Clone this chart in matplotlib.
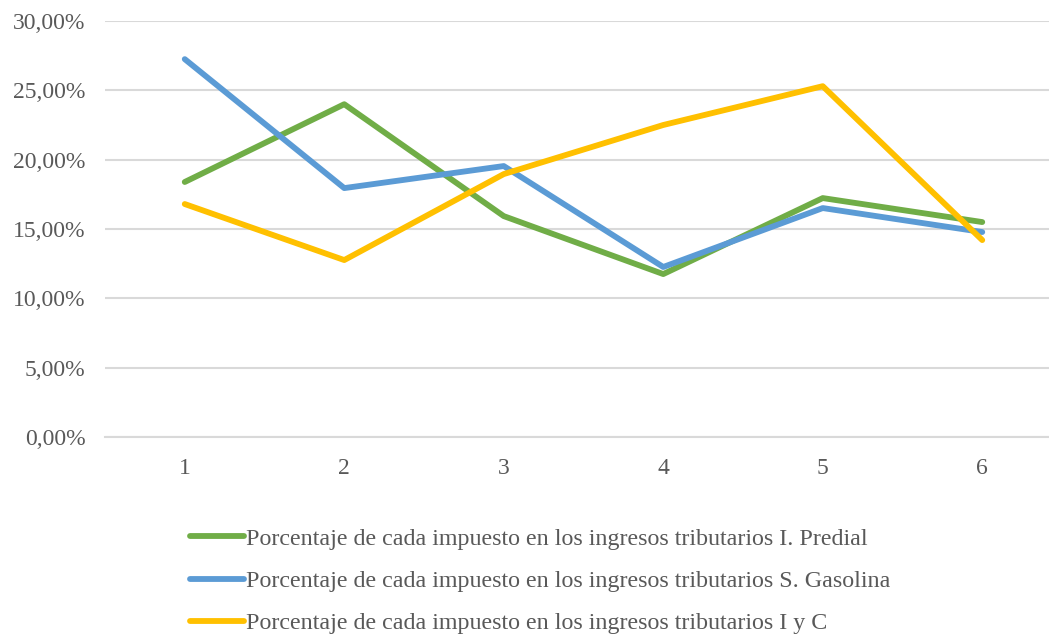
import numpy as np
from matplotlib import pyplot as plt
from matplotlib.ticker import FuncFormatter

# Datos
periodos = [1, 2, 3, 4, 5, 6]
predial = [0.1839, 0.2400, 0.1593, 0.1175, 0.1723, 0.1550]
gasolina = [0.2725, 0.1795, 0.1954, 0.1226, 0.1651, 0.1478]
iyc = [0.1680, 0.1276, 0.1896, 0.2250, 0.2530, 0.1420]
etiquetas = ["Porcentaje de cada impuesto en los ingresos tributarios I. Predial",
             "Porcentaje de cada impuesto en los ingresos tributarios S. Gasolina",
             "Porcentaje de cada impuesto en los ingresos tributarios I y C"]
colores = ["#70AD47", "#5B9BD5", "#FFC000"]

plt.rcParams['font.family'] = ['Liberation Serif', 'DejaVu Serif']

W, H = 1049, 635
fig = plt.figure(figsize=(W / 100, H / 100), dpi=100)
ax = fig.add_axes([105 / W, 1 - 437 / H, (1062 - 105) / W, (437 - 21) / H])

for serie, col, lab in zip([predial, gasolina, iyc], colores, etiquetas):
    ax.plot(periodos, serie, color=col, lw=4.2, label=lab, solid_capstyle='round', solid_joinstyle='round')

ax.set_xlim(0.5, 6.5)
ax.set_ylim(0, 0.30)
ax.set_yticks(np.arange(0, 0.301, 0.05))
ax.yaxis.set_major_formatter(FuncFormatter(lambda v, p: ("%.2f%%" % (v * 100)).replace(".", ",")))
ax.set_xticks(periodos)
ax.grid(axis='y', color='#d9d9d9', lw=1.5)
ax.set_axisbelow(True)
for s in ['top', 'right', 'left']:
    ax.spines[s].set_visible(False)
ax.spines['bottom'].set_color('#d9d9d9')
ax.spines['bottom'].set_linewidth(1.5)
ax.tick_params(length=0, labelsize=17, colors='#595959', pad=14)
ax.tick_params(axis='x', pad=15)

leg = fig.legend(loc='upper left', bbox_to_anchor=(190 / W, 1 - 528 / H), frameon=False,
                 fontsize=17.3, handlelength=2.25, handletextpad=0.1, labelspacing=0.85,
                 borderaxespad=0, borderpad=0)
for t in leg.get_texts():
    t.set_color('#595959')

fig.savefig("out.png", dpi=100)
